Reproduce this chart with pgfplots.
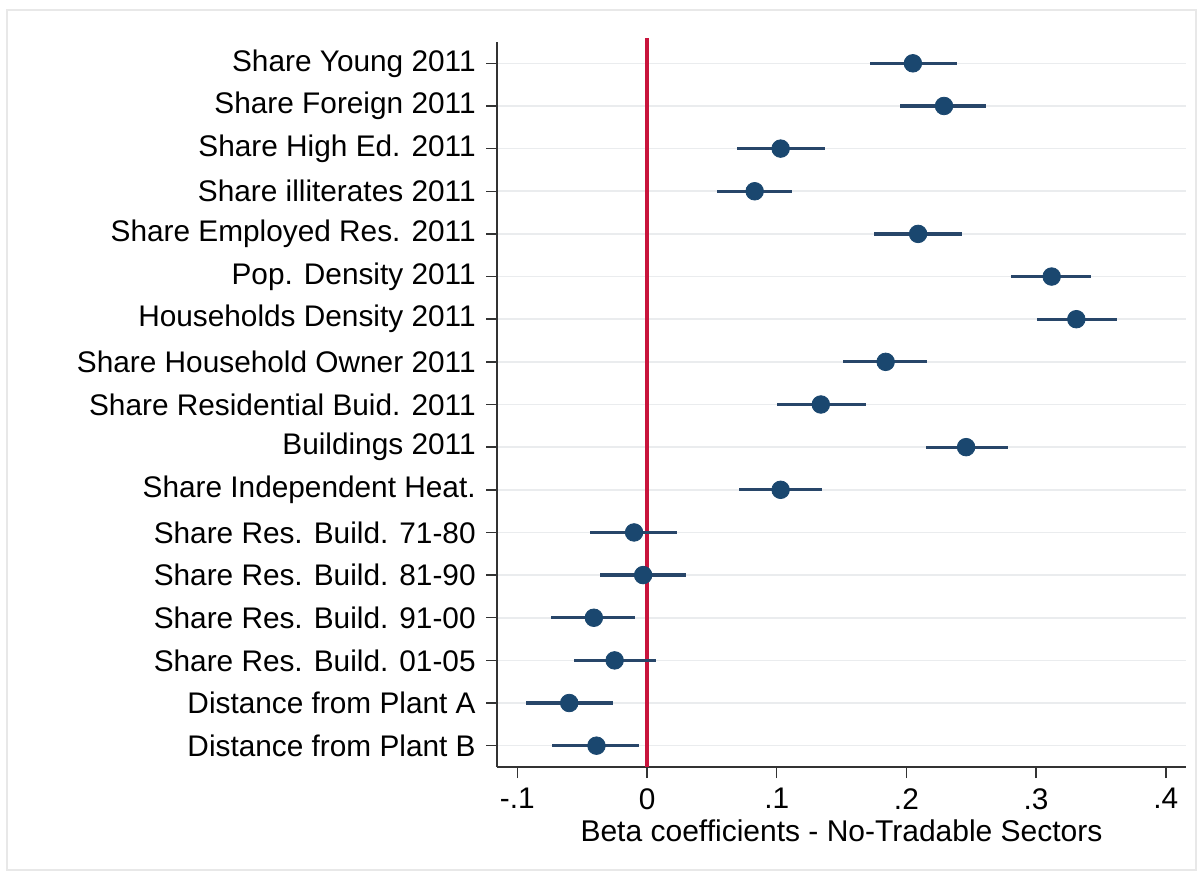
\documentclass[border=0pt]{standalone}
\usepackage{pgfplots}
\usepackage{pgfplotstable}
\pgfplotsset{compat=1.18}
\usepackage{fontspec}
\setmainfont{Liberation Sans}
\definecolor{stnavy}{RGB}{26,71,111}
\definecolor{cinavy}{RGB}{40,70,105}
\definecolor{zred}{RGB}{200,20,60}
\definecolor{gridc}{RGB}{234,236,238}
\pgfplotstableread{
y b lo hi
17 0.205 0.172 0.239
16 0.229 0.195 0.261
15 0.103 0.069 0.137
14 0.083 0.054 0.112
13 0.209 0.175 0.243
12 0.312 0.281 0.342
11 0.331 0.301 0.362
10 0.184 0.151 0.216
9 0.134 0.100 0.169
8 0.246 0.215 0.278
7 0.103 0.071 0.135
6 -0.010 -0.044 0.023
5 -0.003 -0.036 0.030
4 -0.041 -0.074 -0.009
3 -0.025 -0.056 0.007
2 -0.060 -0.093 -0.026
1 -0.039 -0.073 -0.006
}\coefs
\begin{document}
\fontsize{14.9}{17.5}\selectfont
\begin{tikzpicture}
\useasboundingbox (0,0) rectangle (601.5pt,439pt);
\fill[white] (0,0) rectangle (601.5pt,439pt);
\draw[gray!18, line width=0.8pt] (3.5pt,4pt) rectangle (598pt,434pt);
\begin{axis}[
  at={(248.5pt,55.5pt)}, anchor=south west,
  scale only axis, width=344.5pt, height=362.5pt,
  xmin=-0.1157, xmax=0.4156, ymin=0.5, ymax=17.5,
  axis x line*=bottom, axis y line*=left,
  axis line style={black!80, line width=0.75pt, -},
  tick align=outside,
  major tick length=5.5pt,
  tick style={black!80, line width=0.75pt},
  xtick={-0.1,0,0.1,0.2,0.3,0.4},
  xticklabels={-.1,0,.1,.2,.3,.4},
  ytick={1,...,17},
  yticklabels={Distance from Plant B,Distance from Plant A,Share Res. Build. 01-05,Share Res. Build. 91-00,Share Res. Build. 81-90,Share Res. Build. 71-80,Share Independent Heat.,Buildings 2011,Share Residential Buid. 2011,Share Household Owner 2011,Households Density 2011,Pop. Density 2011,Share Employed Res. 2011,Share illiterates 2011,Share High Ed. 2011,Share Foreign 2011,Share Young 2011},
  ymajorgrids, grid style={gridc, line width=0.8pt},
  tick label style={font=\fontsize{14.9}{17.5}\selectfont},
  /pgf/number format/assume math mode=true,
  xlabel={Beta coefficients - No-Tradable Sectors},
  xlabel style={font=\fontsize{15}{17.5}\selectfont, yshift=5pt},
  clip=false,
]
\addplot[zred, line width=1.6pt] coordinates {(0,0.5) (0,17.6)};
\addplot[draw=none, mark=none,
  error bars/.cd, x dir=both, x explicit,
  error bar style={cinavy, line width=1.6pt}, error mark=none]
  table[x=b, y=y, x error plus expr=\thisrow{hi}-\thisrow{b}, x error minus expr=\thisrow{b}-\thisrow{lo}] {\coefs};
\addplot[only marks, mark=*, mark size=4.4pt, mark options={fill=stnavy, draw=stnavy}]
  table[x=b, y=y] {\coefs};
\end{axis}
\end{tikzpicture}
\end{document}
